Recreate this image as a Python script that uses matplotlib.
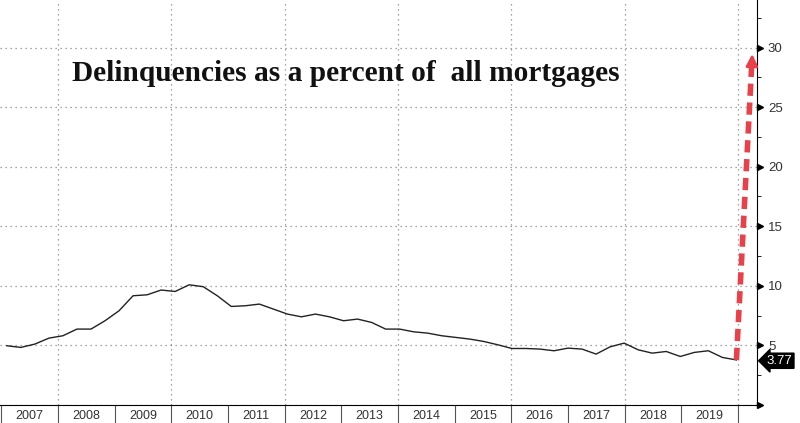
import matplotlib.pyplot as plt
import matplotlib.transforms as mtransforms
from matplotlib.ticker import MultipleLocator, FixedLocator, NullFormatter, FixedFormatter

# quarterly delinquency rate (% of all mortgages)
values = [4.96, 4.82, 5.10, 5.60,
          5.80, 6.36, 6.36, 7.06,
          7.90, 9.16, 9.24, 9.64,
          9.52, 10.08, 9.92, 9.16,
          8.26, 8.32, 8.46, 8.04,
          7.62, 7.39, 7.62, 7.39,
          7.06, 7.20, 6.92, 6.36,
          6.36, 6.13, 6.02, 5.80,
          5.66, 5.52, 5.32, 5.04,
          4.73, 4.73, 4.68, 4.54,
          4.76, 4.68, 4.26, 4.87,
          5.18, 4.62, 4.34, 4.48,
          4.06, 4.40, 4.54, 3.98,
          3.77]
dates = [2007.1 + 0.2475 * i for i in range(len(values))]
years = list(range(2007, 2020))
yticks = [0, 5, 10, 15, 20, 25, 30]
last_value = 3.77
arrow_target = (2020.25, 29.7)

title = 'Delinquencies as a percent of  all mortgages'
tick_font = ['Liberation Sans', 'DejaVu Sans']
red = '#e8414a'

fig = plt.figure(figsize=(8, 4.23), dpi=100)
ax = fig.add_axes([0.0, 0.043, 0.946, 0.957])

ax.plot(dates, values, color='#222222', lw=1.0)

# red dashed "projection" arrow
ax.plot([dates[-1], arrow_target[0] - 0.008], [values[-1], arrow_target[1] - 1.0],
        color=red, lw=4, ls=(0, (2.2, 1.2)), solid_capstyle='butt', zorder=5)
ax.annotate('', xy=arrow_target, xytext=(arrow_target[0] - 0.006, arrow_target[1] - 1.2),
            arrowprops=dict(arrowstyle='-|>,head_width=0.35,head_length=0.7',
                            color=red, lw=2), zorder=6)

ax.set_xlim(2006.98, 2020.33)
ax.set_ylim(0, 34)

# y axis on right, triangle markers as major ticks
ax.yaxis.tick_right()
ax.yaxis.set_major_locator(FixedLocator(yticks))
ax.yaxis.set_major_formatter(FixedFormatter([''] + [str(v) for v in yticks[1:]]))
ax.yaxis.set_minor_locator(MultipleLocator(2.5))
ax.tick_params(axis='y', which='major', length=0, labelsize=9.5,
               labelcolor='#333333', pad=8)
ax.tick_params(axis='y', which='minor', length=3, color='black')
for lab in ax.get_yticklabels():
    lab.set_family(tick_font)
tri_trans = mtransforms.offset_copy(ax.get_yaxis_transform(), fig=fig, x=2.2, units='points')
ax.plot([1.0] * len(yticks), yticks, marker='>', ms=5, color='black', ls='none',
        transform=tri_trans, clip_on=False, zorder=7)

# x axis: separators at each year, labels centred in between
ax.xaxis.set_major_locator(FixedLocator(years + [2020]))
ax.xaxis.set_major_formatter(NullFormatter())
ax.xaxis.set_minor_locator(FixedLocator([y + 0.5 for y in years]))
ax.xaxis.set_minor_formatter(FixedFormatter([str(y) for y in years]))
ax.tick_params(axis='x', which='major', length=15, width=0.8, color='#555555')
ax.tick_params(axis='x', which='minor', length=0, labelsize=9,
               labelcolor='#333333', pad=4)
for lab in ax.get_xticklabels(minor=True):
    lab.set_family(tick_font)

# dotted grid
for v in yticks:
    ax.axhline(v, color='#888888', lw=0.9, ls=(0, (1, 3)), zorder=0)
for yr in range(2008, 2021, 2):
    ax.axvline(yr, color='#888888', lw=0.9, ls=(0, (1, 3)), zorder=0)

for side in ['top', 'left']:
    ax.spines[side].set_visible(False)
ax.spines['bottom'].set_color('black')
ax.spines['right'].set_color('black')

ax.text(2008.25, 27.8, title, fontsize=21.2, fontweight='bold',
        family=['Liberation Serif', 'DejaVu Serif'], color='#111111', va='center')

ax.text(1.013, 3.7 / 34, f'{last_value:.2f}', transform=ax.transAxes,
        color='white', fontsize=9.5, va='center', ha='left', family=tick_font,
        bbox=dict(boxstyle='larrow,pad=0.12', fc='black', ec='black'))

fig.savefig('out.png', dpi=100)
